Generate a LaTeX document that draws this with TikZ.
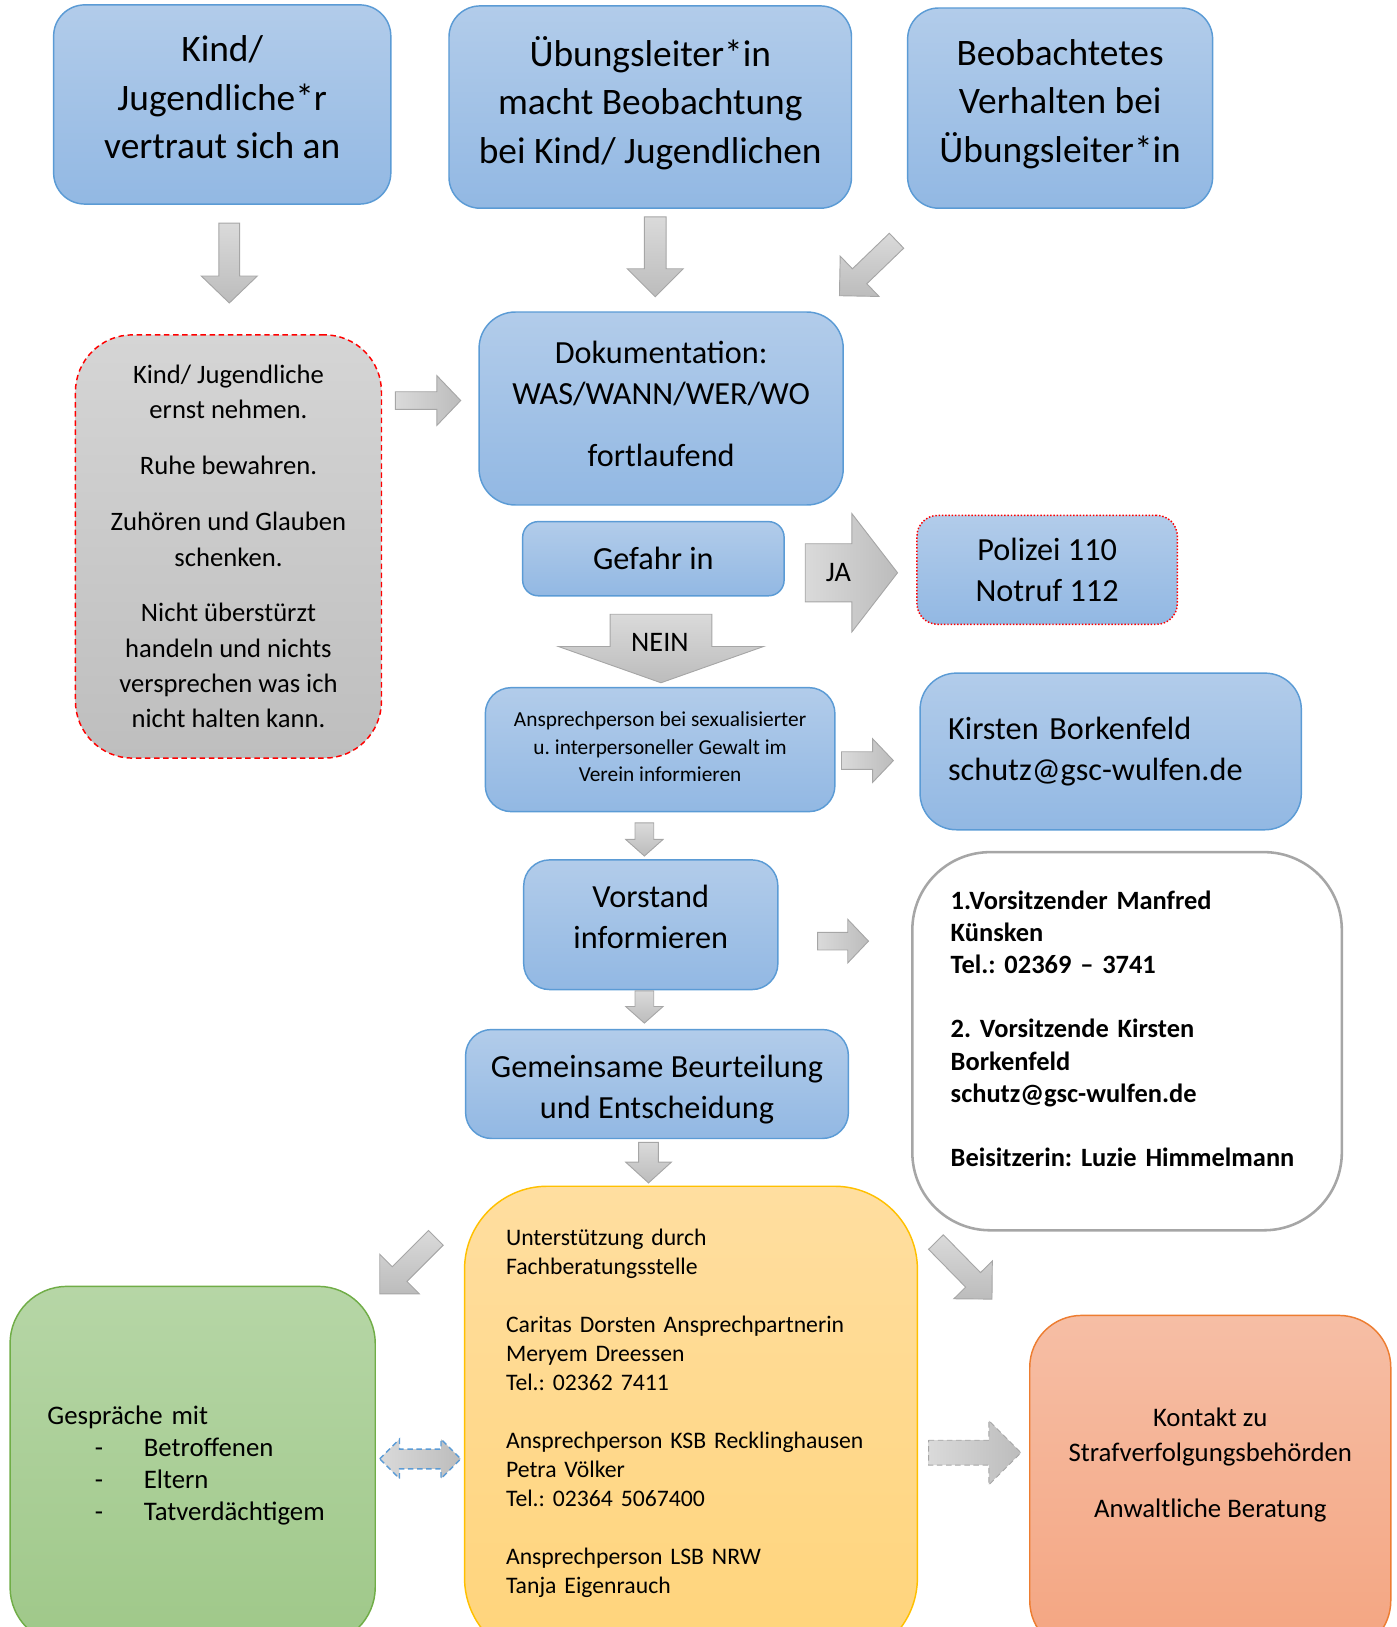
\documentclass[tikz,border=0pt]{standalone}
\usepackage{fontspec}
\setmainfont{Carlito}
\frenchspacing
\usetikzlibrary{positioning, calc}

\definecolor{boxtop}{RGB}{178,204,234}
\definecolor{boxbot}{RGB}{146,184,227}
\definecolor{boxline}{RGB}{91,155,213}
\definecolor{arrtop}{RGB}{218,218,218}
\definecolor{arrbot}{RGB}{188,188,188}
\definecolor{arrline}{RGB}{166,166,166}
\definecolor{greytop}{RGB}{213,213,213}
\definecolor{greybot}{RGB}{190,190,190}
\definecolor{yeltop}{RGB}{255,222,160}
\definecolor{yelbot}{RGB}{255,212,122}
\definecolor{yelline}{RGB}{255,192,0}
\definecolor{grntop}{RGB}{182,214,166}
\definecolor{grnbot}{RGB}{159,200,137}
\definecolor{grnline}{RGB}{112,173,71}
\definecolor{orgtop}{RGB}{246,190,165}
\definecolor{orgbot}{RGB}{244,165,129}
\definecolor{orgline}{RGB}{237,125,49}

\begin{document}
\begin{tikzpicture}[
        x=0.02cm, y=-0.02cm,
        box/.style={rectangle, anchor=north west, line width=0.8pt, align=center, inner sep=0pt},
        blue/.style={box, draw=boxline, top color=boxtop, bottom color=boxbot},
        big/.style={font=\fontsize{20.5}{26.7}\selectfont},
        mid/.style={font=\fontsize{17.7}{22.5}\selectfont},
        arrv/.style={draw=arrline, line width=0.5pt, top color=arrtop, bottom color=arrbot},
        arrh/.style={draw=arrline, line width=0.5pt, left color=arrtop, right color=arrbot},
        arrd/.style={arrh, densely dashed},
        lbl/.style={font=\fontsize{15.5}{18}\selectfont}
    ]
    \useasboundingbox (0,0) rectangle (1346,1568);

    % Start boxes
    \node[blue, big, minimum width=6.5cm, minimum height=3.84cm, rounded corners=0.6cm] (kind) at (51,4) {Kind/\\Jugendliche*r\\vertraut sich an\\[-18.7pt]\mbox{}};
    \node[blue, big, minimum width=7.76cm, minimum height=3.9cm, rounded corners=0.6cm] (uebung) at (432,5) {Übungsleiter*in\\macht Beobachtung\\bei Kind/ Jugendlichen\\[-18.7pt]\mbox{}};
    \node[blue, big, minimum width=5.88cm, minimum height=3.86cm, rounded corners=0.6cm] (verhalten) at (874,7) {Beobachtetes\\Verhalten bei\\Übungsleiter*in\\[-18.7pt]\mbox{}};

    % How to react
    \node[box, draw=red, densely dashed, top color=greytop, bottom color=greybot, minimum width=5.9cm, minimum height=8.16cm, rounded corners=1.1cm, font=\fontsize{14.6}{19.3}\selectfont] (regeln) at (72,322) {Kind/ Jugendliche\\ernst nehmen.\\[11.4pt]Ruhe bewahren.\\[11.4pt]Zuhören und Glauben\\schenken.\\[11.4pt]Nicht überstürzt\\handeln und nichts\\versprechen was ich\\nicht halten kann.};

    % Middle column
    \node[blue, mid, minimum width=7.02cm, minimum height=3.72cm, rounded corners=0.7cm] (doku) at (461,300) {Dokumentation:\\WAS/WANN/WER/WO\\[11.6pt]fortlaufend\\[-17pt]\mbox{}};
    \node[blue, mid, minimum width=5.04cm, minimum height=1.43cm, rounded corners=0.3cm] (gefahr) at (503,502) {Gefahr in};
    \node[blue, mid, draw=red, densely dotted, minimum width=5.02cm, minimum height=2.1cm, rounded corners=0.4cm] (polizei) at (883,496) {Polizei 110\\Notruf 112};
    \node[blue, font=\fontsize{11.7}{15.1}\selectfont, minimum width=6.74cm, minimum height=2.39cm, rounded corners=0.5cm] (ansprech) at (467,662) {Ansprechperson bei sexualisierter\\u. interpersoneller Gewalt im\\Verein informieren\\[-12pt]\mbox{}};
    \node[blue, mid, align=left, text width=6.27cm, inner xsep=0.54cm, minimum width=7.35cm, minimum height=3.02cm, rounded corners=0.7cm] (kirsten) at (886,648) {Kirsten Borkenfeld\\schutz@gsc-wulfen.de};
    \node[blue, mid, minimum width=4.9cm, minimum height=2.5cm, rounded corners=0.5cm] (vorstand) at (504,828) {Vorstand\\informieren\\[-14pt]\mbox{}};
    \node[box, draw=arrline, line width=1.4pt, fill=white, align=left, text width=6.8cm, inner xsep=0.74cm, minimum width=8.28cm, minimum height=7.29cm, rounded corners=1.5cm, font=\bfseries\fontsize{14.5}{17.6}\selectfont] (vorsitz) at (878,820) {1.Vorsitzender Manfred\\Künsken\\Tel.: 02369 – 3741\\[17.6pt]2. Vorsitzende Kirsten\\Borkenfeld\\schutz@gsc-wulfen.de\\[17.6pt]Beisitzerin: Luzie Himmelmann\\[-3.9pt]\mbox{}};
    \node[blue, mid, minimum width=7.38cm, minimum height=2.1cm, rounded corners=0.5cm] (urteil) at (448,991.5) {\mbox{}\\[-4.4pt]Gemeinsame Beurteilung\\und Entscheidung};

    % Bottom row
    \node[box, draw=yelline, top color=yeltop, bottom color=yelbot, align=left, text width=7.13cm, inner xsep=0.8cm, minimum width=8.73cm, minimum height=9.15cm, rounded corners=1.6cm, font=\fontsize{13}{15.9}\selectfont] (hilfe) at (447,1142.5) {Unterstützung durch\\Fachberatungsstelle\\[15.9pt]Caritas Dorsten Ansprechpartnerin\\Meryem Dreessen\\Tel.: 02362 7411\\[15.9pt]Ansprechperson KSB Recklinghausen\\Petra Völker\\Tel.: 02364 5067400\\[15.9pt]Ansprechperson LSB NRW\\Tanja Eigenrauch\\[-2.2pt]\mbox{}};
    \node[box, draw=grnline, top color=grntop, bottom color=grnbot, align=left, text width=5.6cm, inner xsep=0.72cm, minimum width=7.04cm, minimum height=6.9cm, rounded corners=1.1cm, font=\fontsize{14.7}{17.6}\selectfont] (gespraech) at (9,1239) {Gespräche mit\\\hspace*{26pt}\makebox[26.9pt][l]{-}Betroffenen\\\hspace*{26pt}\makebox[26.9pt][l]{-}Eltern\\\hspace*{26pt}\makebox[26.9pt][l]{-}Tatverdächtigem};
    \node[box, draw=orgline, top color=orgtop, bottom color=orgbot, minimum width=6.96cm, minimum height=6.5cm, rounded corners=1cm, font=\fontsize{14.7}{19.3}\selectfont] (kontakt) at (991.7,1267) {Kontakt zu\\Strafverfolgungsbehörden\\[11.4pt]Anwaltliche Beratung\\[4pt]\mbox{}};

    % Arrow ends (tail / tip)
    \foreach \n/\x/\y in {a1t/221/215, a1h/221/292, a2t/631.5/209, a2h/631.5/286, a3t/864/232, a3h/809/285,
        a4t/381/386, a4h/444/386, ja1/776/552, ja2/865/552, nein1/637/592, nein2/637/658,
        a7t/811/733, a7h/861/733, a8t/621/793, a8h/621/825, a9t/788/907, a9h/837/907,
        a10t/621/955, a10h/621/986, a11t/625/1101, a11h/625/1140, a12t/420/1193, a12h/366/1247,
        a13t/902/1197, a13h/956/1252, a15t/895/1400, a15h/984/1400, dl/366/1406, dr/444/1406}
        \coordinate (\n) at (\x,\y);

    % Block arrows: tail/tip/shaft half width/head half width/head length/style
    \foreach \p/\q/\sw/\hw/\hlen/\sty in {a1t/a1h/0.2/0.54/0.52/arrv, a2t/a2h/0.21/0.54/0.54/arrv, a3t/a3h/0.2/0.54/0.54/arrv,
        a4t/a4h/0.17/0.48/0.46/arrh, ja1/ja2/0.56/1.14/0.88/arrh, nein1/nein2/0.98/1.98/0.7/arrv,
        a7t/a7h/0.17/0.42/0.4/arrh, a8t/a8h/0.18/0.36/0.32/arrv, a9t/a9h/0.17/0.42/0.4/arrh,
        a10t/a10h/0.18/0.36/0.32/arrv, a11t/a11h/0.19/0.44/0.4/arrv, a12t/a12h/0.2/0.54/0.54/arrv,
        a13t/a13h/0.2/0.52/0.52/arrv, a15t/a15h/0.24/0.62/0.62/arrd} {
        \coordinate (hd) at ($(\q)!\hlen cm!(\p)$);
        \draw[\sty] ($(\p)!\sw cm!90:(\q)$) -- ($(hd)!\sw cm!90:(\q)$) -- ($(hd)!\hw cm!90:(\q)$) -- (\q)
            -- ($(hd)!\hw cm!-90:(\q)$) -- ($(hd)!\sw cm!-90:(\q)$) -- ($(\p)!\sw cm!-90:(\q)$) -- cycle;
    }

    % Double arrow between talks and support
    \coordinate (dlh) at ($(dl)!0.38cm!(dr)$);
    \coordinate (drh) at ($(dr)!0.38cm!(dl)$);
    \draw[arrh, draw=boxline, line width=0.8pt, densely dashed] (dl) -- ($(dlh)!0.38cm!90:(dr)$) -- ($(dlh)!0.19cm!90:(dr)$)
        -- ($(drh)!0.19cm!90:(dr)$) -- ($(drh)!0.38cm!90:(dr)$) -- (dr) -- ($(drh)!0.38cm!-90:(dr)$)
        -- ($(drh)!0.19cm!-90:(dr)$) -- ($(dlh)!0.19cm!-90:(dr)$) -- ($(dlh)!0.38cm!-90:(dr)$) -- cycle;

    % Decision labels
    \node[lbl] (ja) at (808,552) {JA};
    \node[lbl] (nein) at (636,619) {NEIN};
\end{tikzpicture}
\end{document}
